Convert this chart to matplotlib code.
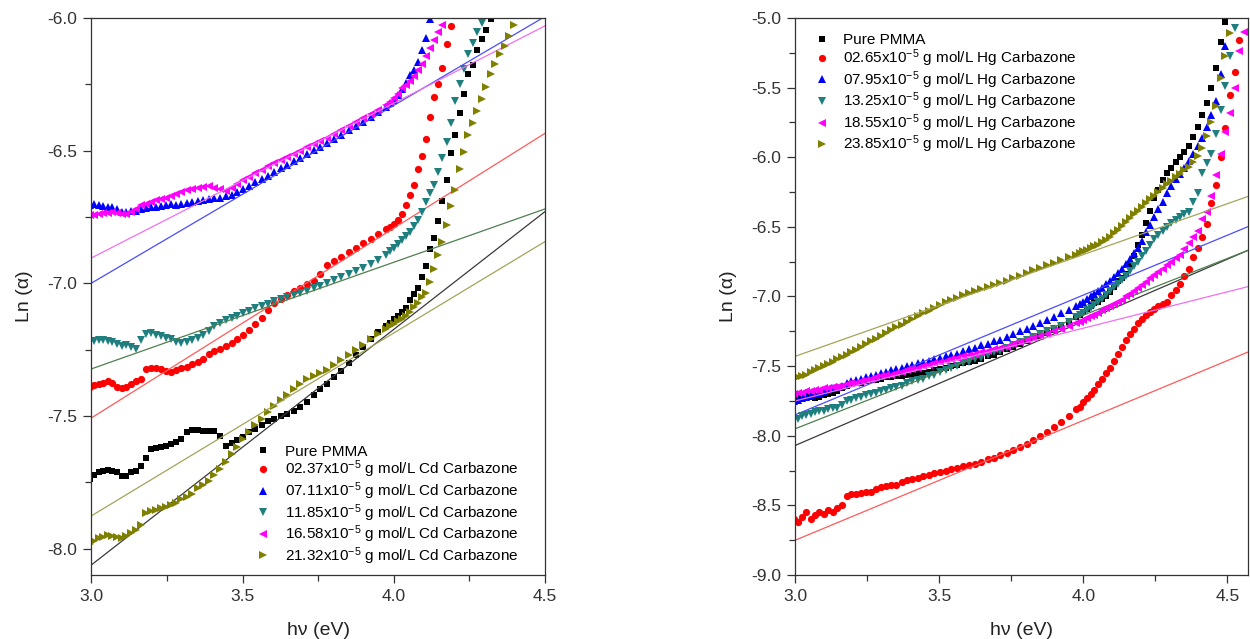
import matplotlib
matplotlib.use("Agg")
import matplotlib.pyplot as plt
import numpy as np
from matplotlib.ticker import MultipleLocator, FormatStrFormatter

plt.rcParams['font.family'] = ['Liberation Sans', 'DejaVu Sans']
plt.rcParams['mathtext.default'] = 'regular'

# measurement grid: wavelength (nm) -> photon energy (eV), finer step in the UV
wavelength = np.concatenate([np.arange(414, 311, -2), np.arange(311, 271, -1)])
hv = 1240.0 / wavelength

# ---- Cd carbazone films ----
cd_labels = ["Pure PMMA",
             "02.37x10$^{-5}$ g mol/L Cd Carbazone",
             "07.11x10$^{-5}$ g mol/L Cd Carbazone",
             "11.85x10$^{-5}$ g mol/L Cd Carbazone",
             "16.58x10$^{-5}$ g mol/L Cd Carbazone",
             "21.32x10$^{-5}$ g mol/L Cd Carbazone"]

cd_pure = [-7.738, -7.722, -7.712, -7.706, -7.705, -7.706, -7.712, -7.726, -7.728, -7.712,
           -7.706, -7.690, -7.660, -7.626, -7.622, -7.617, -7.612, -7.605, -7.598, -7.588,
           -7.560, -7.553, -7.553, -7.556, -7.556, -7.558, -7.575, -7.612, -7.604, -7.592,
           -7.578, -7.562, -7.548, -7.535, -7.521, -7.512, -7.502, -7.492, -7.480, -7.466,
           -7.446, -7.422, -7.400, -7.380, -7.355, -7.330, -7.302, -7.272, -7.242, -7.210,
           -7.183, -7.160,
           -7.150, -7.135, -7.122, -7.108, -7.092, -7.065, -7.040, -7.018, -6.975, -6.935,
           -6.870, -6.830, -6.765, -6.690, -6.610, -6.510, -6.440, -6.360, -6.285, -6.212,
           -6.178, -6.120, -6.078, -6.045, -6.005, -5.970]
cd_237 = [-7.392, -7.385, -7.380, -7.376, -7.370, -7.375, -7.390, -7.396, -7.390, -7.378,
          -7.368, -7.360, -7.322, -7.318, -7.320, -7.325, -7.330, -7.333, -7.328, -7.320,
          -7.314, -7.305, -7.298, -7.285, -7.266, -7.255, -7.248, -7.236, -7.226, -7.212,
          -7.195, -7.175, -7.155, -7.130, -7.100, -7.075, -7.058, -7.045, -7.030, -7.018,
          -7.004, -6.990, -6.965, -6.930, -6.915, -6.900, -6.884, -6.868, -6.850, -6.832,
          -6.815, -6.797,
          -6.788, -6.775, -6.760, -6.740, -6.705, -6.668, -6.630, -6.570, -6.520, -6.455,
          -6.375, -6.300, -6.250, -6.190, -6.100, -6.030, -5.960]
cd_711 = [-6.705, -6.700, -6.706, -6.709, -6.712, -6.714, -6.722, -6.731, -6.733, -6.726,
          -6.728, -6.720, -6.716, -6.713, -6.712, -6.708, -6.707, -6.703, -6.705, -6.700,
          -6.698, -6.694, -6.690, -6.688, -6.684, -6.680, -6.678, -6.672, -6.668, -6.658,
          -6.645, -6.632, -6.620, -6.608, -6.594, -6.580, -6.567, -6.554, -6.541, -6.528,
          -6.513, -6.499, -6.485, -6.470, -6.455, -6.440, -6.424, -6.407, -6.391, -6.373,
          -6.355, -6.334,
          -6.322, -6.308, -6.290, -6.268, -6.245, -6.216, -6.195, -6.168, -6.120, -6.075,
          -6.005, -5.950]
cd_1185 = [-7.222, -7.218, -7.215, -7.214, -7.216, -7.222, -7.230, -7.238, -7.234, -7.240,
           -7.246, -7.215, -7.190, -7.188, -7.195, -7.200, -7.206, -7.212, -7.220, -7.226,
           -7.222, -7.214, -7.208, -7.196, -7.180, -7.160, -7.150, -7.140, -7.130, -7.122,
           -7.112, -7.103, -7.094, -7.086, -7.077, -7.068, -7.060, -7.053, -7.045, -7.036,
           -7.028, -7.019, -7.010, -7.000, -6.989, -6.977, -6.965, -6.953, -6.941, -6.927,
           -6.912, -6.895,
           -6.880, -6.866, -6.852, -6.838, -6.822, -6.806, -6.786, -6.760, -6.733, -6.695,
           -6.660, -6.630, -6.580, -6.528, -6.466, -6.395, -6.315, -6.250, -6.192, -6.136,
           -6.094, -6.055, -6.018, -5.980]
cd_1658 = [-6.742, -6.741, -6.738, -6.737, -6.735, -6.733, -6.736, -6.740, -6.738, -6.730,
           -6.722, -6.705, -6.700, -6.695, -6.688, -6.682, -6.677, -6.672, -6.664, -6.655,
           -6.650, -6.643, -6.640, -6.636, -6.634, -6.640, -6.646, -6.652, -6.640, -6.625,
           -6.610, -6.598, -6.585, -6.573, -6.560, -6.548, -6.536, -6.524, -6.512, -6.501,
           -6.488, -6.476, -6.463, -6.451, -6.437, -6.423, -6.408, -6.393, -6.378, -6.362,
           -6.346, -6.328,
           -6.316, -6.303, -6.285, -6.266, -6.252, -6.237, -6.220, -6.198, -6.172, -6.145,
           -6.114, -6.085, -6.055, -6.027, -5.990]
cd_2132 = [-7.982, -7.972, -7.962, -7.955, -7.950, -7.952, -7.958, -7.962, -7.952, -7.940,
           -7.930, -7.912, -7.866, -7.860, -7.855, -7.848, -7.842, -7.836, -7.828, -7.815,
           -7.806, -7.795, -7.772, -7.760, -7.745, -7.724, -7.700, -7.672, -7.645, -7.617,
           -7.588, -7.560, -7.535, -7.510, -7.486, -7.462, -7.440, -7.420, -7.398, -7.380,
           -7.362, -7.350, -7.340, -7.326, -7.308, -7.290, -7.270, -7.251, -7.232, -7.212,
           -7.192, -7.172,
           -7.162, -7.152, -7.144, -7.135, -7.122, -7.108, -7.090, -7.075, -7.052, -7.035,
           -6.995, -6.946, -6.893, -6.845, -6.780, -6.708, -6.650, -6.570, -6.505, -6.440,
           -6.395, -6.350, -6.305, -6.262, -6.213, -6.172, -6.135, -6.105, -6.070, -6.025,
           -5.990]

# linear fits: (value at 3.0 eV, value at 4.5 eV)
cd_fit_x = [3.0, 4.5]
cd_fits = [(-8.062, -6.730), (-7.508, -6.435), (-7.000, -5.995),
           (-7.323, -6.720), (-6.905, -6.030), (-7.877, -6.843)]

# ---- Hg carbazone films ----
hg_labels = ["Pure PMMA",
             "02.65x10$^{-5}$ g mol/L Hg Carbazone",
             "07.95x10$^{-5}$ g mol/L Hg Carbazone",
             "13.25x10$^{-5}$ g mol/L Hg Carbazone",
             "18.55x10$^{-5}$ g mol/L Hg Carbazone",
             "23.85x10$^{-5}$ g mol/L Hg Carbazone"]

hg_pure = [-7.72, -7.73, -7.72, -7.71, -7.72, -7.73, -7.72, -7.71, -7.70, -7.69,
           -7.68, -7.66, -7.64, -7.63, -7.62, -7.62, -7.61, -7.60, -7.60, -7.59,
           -7.58, -7.58, -7.57, -7.57, -7.56, -7.56, -7.55, -7.55, -7.54, -7.53,
           -7.52, -7.51, -7.50, -7.49, -7.48, -7.47, -7.46, -7.45, -7.43, -7.42,
           -7.40, -7.38, -7.36, -7.34, -7.32, -7.30, -7.28, -7.26, -7.24, -7.21,
           -7.18, -7.15,
           -7.13, -7.11, -7.09, -7.07, -7.05, -7.04, -7.02, -7.00, -6.97, -6.93,
           -6.89, -6.87, -6.84, -6.78, -6.71, -6.63, -6.555, -6.47, -6.385, -6.295,
           -6.235, -6.163, -6.11, -6.075, -6.035, -6.00, -5.96, -5.918, -5.858, -5.78,
           -5.70, -5.61, -5.50, -5.36, -5.17, -5.03, -4.90]
hg_265 = [-8.60, -8.62, -8.58, -8.55, -8.60, -8.57, -8.55, -8.56, -8.53, -8.55,
          -8.52, -8.50, -8.43, -8.42, -8.42, -8.41, -8.40, -8.40, -8.38, -8.37,
          -8.36, -8.35, -8.35, -8.33, -8.32, -8.31, -8.30, -8.29, -8.28, -8.27,
          -8.26, -8.25, -8.24, -8.23, -8.22, -8.21, -8.20, -8.19, -8.17, -8.16,
          -8.14, -8.12, -8.10, -8.08, -8.06, -8.03, -8.00, -7.97, -7.94, -7.90,
          -7.86, -7.81,
          -7.79, -7.76, -7.73, -7.70, -7.67, -7.63, -7.59, -7.55, -7.51, -7.46,
          -7.41, -7.36, -7.31, -7.27, -7.23, -7.19, -7.16, -7.13, -7.11, -7.09,
          -7.07, -7.055, -7.04, -6.99, -6.95, -6.91, -6.85, -6.80, -6.72, -6.65,
          -6.57, -6.48, -6.33, -6.20, -6.00, -5.79, -5.55, -5.39, -5.16, -4.95]
hg_795 = [-7.75, -7.74, -7.73, -7.72, -7.71, -7.70, -7.69, -7.68, -7.67, -7.66,
          -7.65, -7.64, -7.62, -7.61, -7.60, -7.59, -7.58, -7.57, -7.56, -7.55,
          -7.54, -7.53, -7.52, -7.51, -7.50, -7.49, -7.48, -7.47, -7.46, -7.45,
          -7.44, -7.43, -7.42, -7.41, -7.39, -7.38, -7.37, -7.35, -7.34, -7.32,
          -7.31, -7.29, -7.27, -7.25, -7.23, -7.21, -7.19, -7.17, -7.15, -7.12,
          -7.10, -7.07,
          -7.055, -7.04, -7.02, -7.00, -6.98, -6.96, -6.94, -6.91, -6.89, -6.86,
          -6.83, -6.80, -6.77, -6.73, -6.69, -6.65, -6.60, -6.54, -6.49, -6.43,
          -6.37, -6.32, -6.26, -6.21, -6.16, -6.12, -6.08, -6.03, -5.98, -5.92,
          -5.86, -5.78, -5.70, -5.60, -5.40, -5.20, -4.95]
hg_1325 = [-7.89, -7.88, -7.86, -7.85, -7.84, -7.83, -7.82, -7.82, -7.81, -7.80,
           -7.80, -7.78, -7.75, -7.74, -7.73, -7.72, -7.71, -7.70, -7.69, -7.68,
           -7.67, -7.66, -7.65, -7.64, -7.62, -7.61, -7.60, -7.59, -7.57, -7.56,
           -7.54, -7.53, -7.51, -7.50, -7.48, -7.47, -7.45, -7.44, -7.42, -7.40,
           -7.39, -7.37, -7.35, -7.33, -7.31, -7.29, -7.27, -7.25, -7.23, -7.21,
           -7.18, -7.15,
           -7.13, -7.115, -7.10, -7.08, -7.06, -7.04, -7.02, -6.99, -6.96, -6.935,
           -6.91, -6.88, -6.85, -6.82, -6.78, -6.75, -6.71, -6.67, -6.63, -6.59,
           -6.56, -6.53, -6.50, -6.47, -6.45, -6.43, -6.41, -6.39, -6.32, -6.26,
           -6.11, -6.04, -5.98, -5.83, -5.66, -5.49, -5.27, -5.07, -4.92]
hg_1855 = [-7.70, -7.69, -7.69, -7.68, -7.68, -7.67, -7.67, -7.66, -7.66, -7.65,
           -7.65, -7.64, -7.63, -7.62, -7.62, -7.61, -7.60, -7.59, -7.58, -7.57,
           -7.56, -7.56, -7.55, -7.54, -7.53, -7.52, -7.51, -7.50, -7.49, -7.48,
           -7.47, -7.46, -7.45, -7.44, -7.43, -7.42, -7.41, -7.40, -7.39, -7.38,
           -7.37, -7.36, -7.34, -7.33, -7.31, -7.30, -7.28, -7.27, -7.25, -7.23,
           -7.21, -7.19,
           -7.18, -7.17, -7.155, -7.14, -7.13, -7.115, -7.10, -7.085, -7.07, -7.055,
           -7.04, -7.025, -7.00, -6.98, -6.96, -6.94, -6.915, -6.893, -6.87, -6.845,
           -6.825, -6.80, -6.775, -6.75, -6.725, -6.70, -6.66, -6.615, -6.575, -6.53,
           -6.445, -6.39, -6.28, -6.13, -5.98, -5.82, -5.68, -5.50, -5.24, -5.10]
hg_2385 = [-7.590, -7.580, -7.570, -7.560, -7.545, -7.530, -7.515, -7.500, -7.485, -7.470,
           -7.452, -7.435, -7.418, -7.400, -7.382, -7.362, -7.342, -7.322, -7.302, -7.282,
           -7.262, -7.242, -7.222, -7.202, -7.182, -7.162, -7.142, -7.122, -7.102, -7.082,
           -7.060, -7.042, -7.025, -7.008, -6.992, -6.976, -6.962, -6.948, -6.933, -6.918,
           -6.902, -6.886, -6.870, -6.852, -6.832, -6.812, -6.793, -6.775, -6.757, -6.739,
           -6.720, -6.700,
           -6.688, -6.676, -6.664, -6.652, -6.640, -6.628, -6.610, -6.592, -6.570, -6.545,
           -6.520, -6.495, -6.465, -6.435, -6.410, -6.385, -6.360, -6.332, -6.302, -6.275,
           -6.248, -6.223, -6.196, -6.170, -6.145, -6.120, -6.095, -6.070, -6.035, -5.995,
           -5.935, -5.845, -5.745, -5.630, -5.435, -5.275, -5.110, -4.950]

# linear fits: (value at 3.0 eV, value at 4.57 eV)
hg_fit_x = [3.0, 4.57]
hg_fits = [(-8.07, -6.67), (-8.75, -7.40), (-7.85, -6.50),
           (-7.95, -6.67), (-7.75, -6.93), (-7.43, -6.283)]

marker_colors = ['black', '#ff0000', '#0000ff', '#1f7f7f', '#ff00ff', '#808000']
markers = ['s', 'o', '^', 'v', '<', '>']
msizes = [4.6, 5.2, 5.8, 5.8, 5.8, 5.8]
fit_colors = ['#3a3a3a', '#ff5a5a', '#4b4bff', '#4f7f4f', '#f070f0', '#a4a45a']


def draw_panel(ax, series, labels, fit_x, fits, ylim, xlim, legend_kw):
    for y, fit, lab, c, m, s, fc in zip(series, fits, labels, marker_colors,
                                         markers, msizes, fit_colors):
        ax.plot(hv[:len(y)], y, linestyle='none', marker=m, ms=s, color=c,
                markeredgewidth=0, label=lab)
        ax.plot(fit_x, fit, color=fc, lw=0.9)
    ax.set_xlim(*xlim)
    ax.set_ylim(*ylim)
    ax.xaxis.set_major_locator(MultipleLocator(0.5))
    ax.xaxis.set_minor_locator(MultipleLocator(0.25))
    ax.yaxis.set_major_locator(MultipleLocator(0.5))
    ax.yaxis.set_minor_locator(MultipleLocator(0.25))
    ax.xaxis.set_major_formatter(FormatStrFormatter('%.1f'))
    ax.yaxis.set_major_formatter(FormatStrFormatter('%.1f'))
    ax.tick_params(which='both', direction='out', top=False, right=False,
                   labelsize=12.5, colors='#333333', width=0.9)
    ax.tick_params(which='major', length=6, pad=4)
    ax.tick_params(which='minor', length=4)
    for sp in ax.spines.values():
        sp.set_linewidth(0.9)
        sp.set_color('#333333')
    ax.set_xlabel('h\u03bd (eV)', fontsize=14, labelpad=13, color='#222222')
    ax.set_ylabel('Ln (\u03b1)', fontsize=14, labelpad=10, color='#222222')
    ax.legend(frameon=False, fontsize=11, handletextpad=1.0, labelspacing=0.0,
              handlelength=0.8, borderaxespad=0, borderpad=0, **legend_kw)


fig = plt.figure(figsize=(12.5, 6.39), dpi=100)
ax1 = fig.add_axes([0.073, 0.100, 0.363, 0.872])
ax2 = fig.add_axes([0.636, 0.100, 0.362, 0.872])

draw_panel(ax1, [cd_pure, cd_237, cd_711, cd_1185, cd_1658, cd_2132], cd_labels,
           cd_fit_x, cd_fits, (-8.1, -6.0), (3.0, 4.5),
           dict(loc='lower left', bbox_to_anchor=(0.366, 0.015)))
draw_panel(ax2, [hg_pure, hg_265, hg_795, hg_1325, hg_1855, hg_2385], hg_labels,
           hg_fit_x, hg_fits, (-9.0, -5.0), (3.0, 4.57),
           dict(loc='upper left', bbox_to_anchor=(0.046, 0.972)))

fig.savefig('out.png', dpi=100)
